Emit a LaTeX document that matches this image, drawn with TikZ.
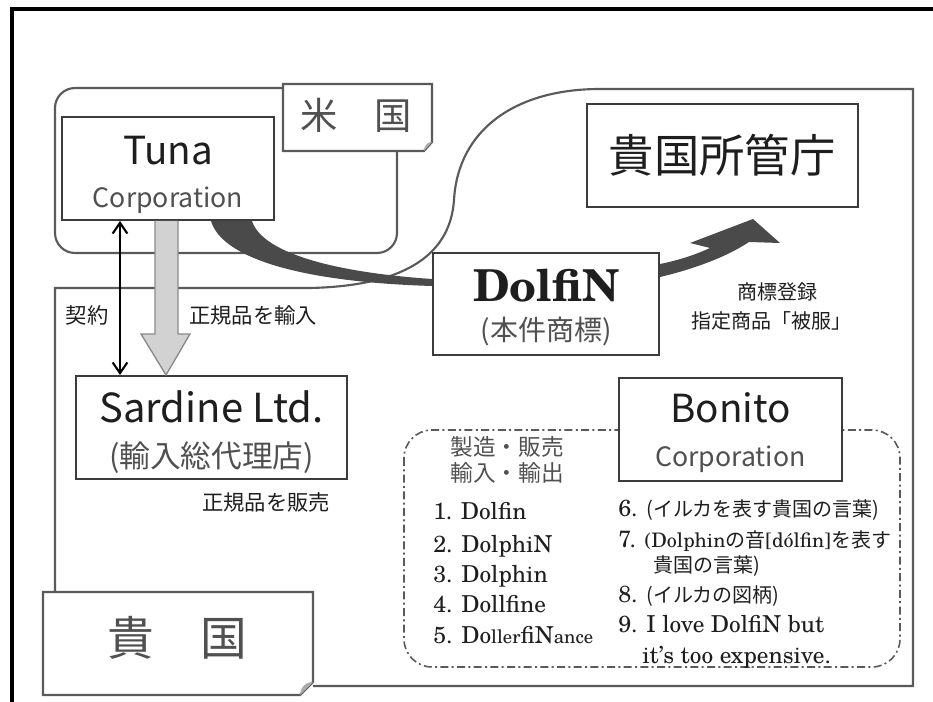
\documentclass[tikz,border=0pt]{standalone}
\usepackage{fontspec}
\newfontfamily\jp{Noto Sans CJK JP}
\newfontfamily\cent{TeX Gyre Schola}
\usetikzlibrary{arrows.meta}
\definecolor{boxc}{HTML}{3C3C3C}
\definecolor{regc}{HTML}{5A5A5A}
\definecolor{txtc}{HTML}{1E1E1E}
\definecolor{lbl}{HTML}{505050}
\definecolor{darkarr}{HTML}{4A4A4A}
\definecolor{grayfill}{HTML}{D2D2D2}
\definecolor{grayline}{HTML}{8A8A8A}
\newcommand{\jps}[1]{{\jp\fontsize{15}{15}\selectfont #1}}
\newcommand{\smallpart}[1]{{\fontsize{14}{14}\selectfont #1}}
\begin{document}
\begin{tikzpicture}[x=0.75pt,y=-0.75pt,
  mybox/.style={draw=boxc,line width=1.5pt,fill=white,inner sep=0pt},
  txt/.style={inner sep=0pt,text=txtc},
  jpt/.style={txt,font=\jp\fontsize{#1}{#1}\selectfont},
  rmt/.style={txt,font=\cent\fontsize{#1}{#1}\selectfont},
  regline/.style={draw=regc,line width=1.6pt},
  lst/.style={rmt=17.5,anchor=base west}]
\useasboundingbox (0,0) rectangle (933,702);
% outer frame (only top and left visible)
\draw[line width=3pt,black] (933,9) -- (12,9) -- (12,702);

% USA region
\draw[regline,rounded corners=15pt] (55,88) rectangle (397,253);
% home country region
\draw[regline] (55,592) -- (55,288) -- (310,288)
  .. controls (400,286) and (450,258) .. (454,200)
  .. controls (458,130) and (515,89) .. (600,89)
  -- (913,89) -- (913,686) -- (313,686);
% dash-dot group
\draw[draw=regc,line width=1.2pt,rounded corners=21pt,
  dash pattern=on 6pt off 2.5pt on 1.5pt off 2.5pt] (404,430) rectangle (900,667);

% boxes
\node[mybox,minimum width=159pt,minimum height=77.25pt] (tuna) at (168,168.5) {};
\node[mybox,minimum width=203.25pt,minimum height=77.25pt] (sardine) at (211.5,427.5) {};
\node[mybox,minimum width=169.5pt,minimum height=76.5pt] (dolfin) at (546,304) {};
\node[mybox,minimum width=203.25pt,minimum height=77.25pt] (office) at (722.5,155.5) {};
\node[mybox,minimum width=167.25pt,minimum height=77.25pt] (bonito) at (730.5,429.5) {};

% dark curved arrow: Tuna -> DolfiN
\fill[darkarr] (211,221) .. controls (222,258) and (300,282) .. (dolfin.west |- 0,286)
  -- (dolfin.west |- 0,279) .. controls (330,272) and (262,252) .. (252,221) -- cycle;
% dark curved arrow: DolfiN -> office
\fill[darkarr] (dolfin.east |- 0,264) .. controls (680,260) and (697,254) .. (710,248)
  -- (690,243) -- (753,219) -- (780,243) -- (749,242)
  .. controls (725,258) and (690,270) .. (dolfin.east |- 0,277) -- cycle;

% gray import arrow Tuna -> Sardine
\coordinate (gx) at (166,0);
\draw[draw=grayline,fill=grayfill,line width=1pt]
  (155,221) -- (155,334) -- (141,334) -- (sardine.north -| gx) -- (190,334) -- (178,334) -- (178,221);
% contract double arrow
\coordinate (kx) at (120,0);
\draw[line width=1.6pt,black,{Straight Barb[length=8pt,width=11pt]}-{Straight Barb[length=8pt,width=11pt]}]
  (tuna.south -| kx) -- (sardine.north -| kx);

% USA label with curl
\draw[regline,fill=white] (283,84) -- (432,84) -- (432,142) -- (424,151) -- (283,151) -- cycle;
\fill[regc!50] (432,142) -- (424,151) .. controls (424,146) and (427,142) .. (432,142);
\node[jpt=28,text=lbl] (usa) at (356,115) {米　国};
% home country label with curl
\draw[regline,fill=white] (43,592) -- (313,592) -- (313,682) -- (300,695) -- (43,695) -- cycle;
\fill[regc!50] (313,682) -- (300,695) .. controls (300,688) and (305,682) .. (313,682);
\node[jpt=35,text=lbl] (home) at (177,638) {貴　国};

% box texts
\node[jpt=29,anchor=base] (tunaA) at (168,165) {Tuna};
\node[jpt=20,anchor=base,text=lbl] (tunaB) at (168,208) {Corporation};
\node[jpt=30,anchor=base] (sardA) at (211.5,423) {Sardine Ltd.};
\node[jpt=23,text=lbl] (sardB) at (211.5,458) {(輸入総代理店)};
\node[txt,font=\cent\bfseries\fontsize{33}{33}\selectfont,anchor=base] (dolA) at (546,302) {DolfiN};
\node[jpt=21,text=lbl] (dolB) at (546,331) {(本件商標)};
\node[jpt=34] (offA) at (722,155) {貴国所管庁};
\node[jpt=29,anchor=base] (bonA) at (730.5,423) {Bonito};
\node[jpt=20,anchor=base,text=lbl] (bonB) at (730.5,467) {Corporation};

% labels
\node[jpt=15] (reg1) at (777,292) {商標登録};
\node[jpt=15] (reg2) at (771,321) {指定商品「被服」};
\node[jpt=16] (keiyaku) at (87,315) {契約};
\node[jpt=16] (imp) at (253,315) {正規品を輸入};
\node[jpt=16] (sell) at (266,502) {正規品を販売};
\node[jpt=17,text=lbl] (act1) at (507,447) {製造・販売};
\node[jpt=17,text=lbl] (act2) at (507,473) {輸入・輸出};

% list
\node[lst] (l1) at (433,520) {1. Dolfin};
\node[lst] (l2) at (433,552) {2. DolphiN};
\node[lst] (l3) at (433,582) {3. Dolphin};
\node[lst] (l4) at (433,612) {4. Dollfine};
\node[lst] (l5) at (433,643) {5. Do\smallpart{ller}fiN\smallpart{ance}};
\node[lst] (l6) at (618,517) {6. \jps{(イルカを表す貴国の言葉)}};
\node[lst] (l7) at (618,547) {7. {\fontsize{15}{15}\selectfont(Dolphin}\jps{の音}{\fontsize{15}{15}\selectfont[dólfin]}\jps{を表す}};
\node[lst] (l7b) at (653,573) {\jps{貴国の言葉)}};
\node[lst] (l8) at (618,603) {8. \jps{(イルカの図柄)}};
\node[lst] (l9) at (618,633) {9. I love DolfiN but};
\node[lst] (l9b) at (642,663) {it’s too expensive.};
\end{tikzpicture}
\end{document}
